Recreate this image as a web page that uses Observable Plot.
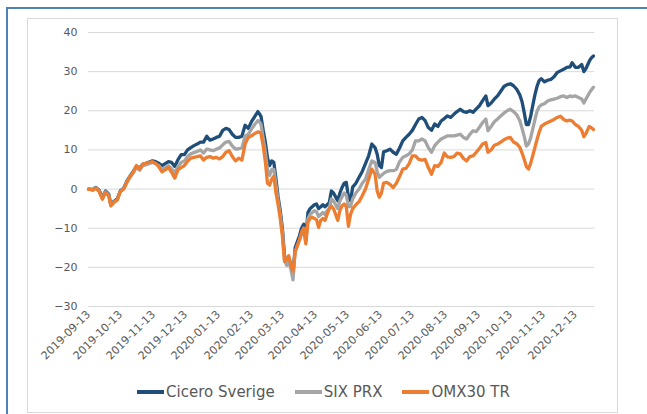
<!DOCTYPE html>
<html>
<head>
<meta charset="utf-8">
<script src="https://cdn.jsdelivr.net/npm/d3@7"></script>
<script src="https://cdn.jsdelivr.net/npm/@observablehq/plot@0.6"></script>
<style>
  html, body { margin: 0; padding: 0; background: #fff; }
  body { width: 647px; height: 414px; overflow: hidden; position: relative; font-family: "DejaVu Sans", Verdana, sans-serif; }
  #outer { position: absolute; left: 6px; top: 7px; width: 700px; height: 500px; border-left: 2px solid #4f81bd; border-top: 2px solid #4f81bd; }
  #inner { position: absolute; left: 27px; top: 18px; width: 589px; height: 393px; border: 1px solid #d9d9d9; }
  #chart { position: absolute; left: 0; top: 0; }
  #legend { position: absolute; left: 0; top: 383px; width: 647px; display: flex; justify-content: center; align-items: center; font-size: 15px; line-height: 18px; color: #595959; }
  .item { display: flex; align-items: center; margin: 0 10px; }
  .sw { display: inline-block; width: 27px; height: 4px; margin-right: 2px; }
</style>
</head>
<body>
<div id="outer"></div>
<div id="inner"></div>
<div id="chart"></div>
<div id="legend"></div>
<script>
const seriesNames = ["Cicero Sverige", "SIX PRX", "OMX30 TR"];
const seriesColors = ["#1f4e79", "#a5a5a5", "#ed7d31"];

const dates = [
"2019-09-13","2019-09-17","2019-09-20","2019-09-23","2019-09-26","2019-09-29","2019-10-02","2019-10-04","2019-10-07","2019-10-10",
"2019-10-13","2019-10-16","2019-10-19","2019-10-22","2019-10-25","2019-10-28","2019-10-31","2019-11-03","2019-11-06","2019-11-09",
"2019-11-12","2019-11-15","2019-11-18","2019-11-21","2019-11-24","2019-11-27","2019-11-30","2019-12-03","2019-12-06","2019-12-09",
"2019-12-12","2019-12-15","2019-12-18","2019-12-21","2019-12-24","2019-12-27","2019-12-30","2020-01-02","2020-01-05","2020-01-08",
"2020-01-11","2020-01-14","2020-01-17","2020-01-20","2020-01-23","2020-01-26","2020-01-29","2020-02-01","2020-02-04","2020-02-07",
"2020-02-10","2020-02-13","2020-02-16","2020-02-19","2020-02-21","2020-02-22","2020-02-24","2020-02-26","2020-02-28","2020-03-01",
"2020-03-03","2020-03-05","2020-03-07","2020-03-09","2020-03-11","2020-03-13","2020-03-15","2020-03-17","2020-03-19","2020-03-21",
"2020-03-23","2020-03-25","2020-03-27","2020-03-29","2020-03-31","2020-04-02","2020-04-04","2020-04-06","2020-04-08","2020-04-10",
"2020-04-12","2020-04-14","2020-04-16","2020-04-18","2020-04-20","2020-04-22","2020-04-24","2020-04-26","2020-04-28","2020-04-30",
"2020-05-02","2020-05-04","2020-05-06","2020-05-08","2020-05-10","2020-05-12","2020-05-14","2020-05-16","2020-05-18","2020-05-21",
"2020-05-24","2020-05-27","2020-05-30","2020-06-02","2020-06-05","2020-06-08","2020-06-10","2020-06-12","2020-06-14","2020-06-16",
"2020-06-19","2020-06-22","2020-06-25","2020-06-28","2020-07-01","2020-07-04","2020-07-07","2020-07-10","2020-07-13","2020-07-16",
"2020-07-19","2020-07-22","2020-07-25","2020-07-28","2020-07-31","2020-08-03","2020-08-06","2020-08-09","2020-08-12","2020-08-15",
"2020-08-18","2020-08-21","2020-08-24","2020-08-27","2020-08-30","2020-09-02","2020-09-05","2020-09-08","2020-09-11","2020-09-14",
"2020-09-17","2020-09-20","2020-09-22","2020-09-25","2020-09-28","2020-10-01","2020-10-04","2020-10-07","2020-10-10","2020-10-13",
"2020-10-16","2020-10-19","2020-10-22","2020-10-24","2020-10-26","2020-10-28","2020-10-30","2020-11-01","2020-11-03","2020-11-05",
"2020-11-07","2020-11-09","2020-11-11","2020-11-14","2020-11-17","2020-11-20","2020-11-23","2020-11-26","2020-11-29","2020-12-02",
"2020-12-05","2020-12-08","2020-12-10","2020-12-13","2020-12-16","2020-12-19","2020-12-21","2020-12-23","2020-12-26","2020-12-28",
"2020-12-30"
];

const cicero = [
0,-0.1,0.4,-0.3,-2.2,-0.5,-1.3,-4,-3.1,-2.5,
-0.4,0.2,2,3.3,4.5,5.8,5.4,6.3,6.6,6.9,
7.2,7,6.6,6,6.5,7,6.8,5.8,7.5,8.8,
8.8,10,10.6,11.1,11.5,12,12,13.5,12.5,12.8,
13.2,13.5,15,15.5,15.2,14,13.2,13.2,13.5,16.3,
15.5,17.2,18.5,19.8,19,18.5,15,12,8,6,
7.2,6.8,2.5,-2,-5.5,-10,-17,-18.5,-17.5,-19.5,
-21.5,-15,-13.5,-12,-10,-9,-12.5,-6,-5,-4.5,
-4,-3.8,-5,-4.5,-4,-4.5,-4,-3.5,-0.5,-1,
-2,-3,-1,0.4,1.5,1.7,-2,-3,0.5,1.5,
3,4.5,6.5,8.5,11.5,10.6,8.9,6,5.5,9.5,
9.8,10.2,9.4,8.9,10.5,12.3,13.2,14,15,16.5,
17.9,18.3,17.5,15.7,15,16.6,16,17.4,18,18.7,
18.3,19.1,19.8,20.4,19.8,19.6,20,19.6,20.5,21.3,
22.6,23.8,21.3,22,23,23.8,25,26.2,26.7,26.9,
26.4,25.5,24,22.3,19.6,16.5,16.5,18.5,21.3,24,
26.2,27.7,28.2,27.4,27.8,28,28.7,29.8,30.2,30.6,
31.1,31.2,32.3,31.1,31.1,31.8,30,30.8,32.6,33.5,
34
];

const sixPrx = [
0,-0.2,0.3,-0.5,-2.4,-0.7,-1.5,-4.2,-3.3,-2.7,
-0.5,0.1,1.8,3.1,4.2,5.5,4.8,6,6.2,6.5,
6.8,6.5,6,5,5.5,6,5.2,4.2,5.8,6.8,
7.2,8.3,9,9.3,9.6,10,9.2,10.2,10,9.8,
10.2,10.5,11.3,12,12.2,11,10.2,10.3,10.5,13.5,
14,15.3,16.5,17.5,17,16.5,13,9.5,5,3.5,
5,5,1,-3,-6.5,-11,-18,-19.5,-18.5,-20.5,
-23.2,-16,-14.5,-13,-11.5,-10,-13.5,-7.5,-6.5,-6,
-5.5,-5.8,-7,-6.5,-6,-6.5,-5.5,-5,-2.5,-3,
-4,-5,-3,-2,-1,-1.5,-4.5,-4.5,-2.5,-1,
0,1.5,2.5,5,7.2,6.8,4.5,3,3.5,4,
4.5,4.7,4.7,5,7,8.1,8.5,9,10,12.3,
12.3,12.8,12.3,10.6,9.4,11.1,12,12.8,13.2,13.6,
13.6,13.6,13.8,14,13.2,12.8,14,14.9,14.7,15.8,
17,17.9,14.9,16,17.2,17.9,18.7,19.4,20,20.4,
19.8,19,17.4,15.5,13.5,11,11.5,13,15.3,17.7,
19.8,21,21.5,21.8,22.5,22.8,23,23.2,23.6,23.8,
23.4,23.8,23.6,23.8,23.4,23,22,23,24.5,25.3,
26
];

const omx30 = [
0,-0.3,0.2,-0.6,-2.6,-0.9,-1.7,-4.3,-3.4,-2.8,
-0.6,0,1.7,3.1,4.3,6,5.1,6.4,6.6,6.8,
7,6.6,5.7,4.4,4.9,5.5,4.3,2.8,4.9,5.5,
6,7.1,7.9,8.1,8.3,8.5,7.4,8.1,8.3,7.9,
8.1,7.7,8.3,9.4,9.8,8.3,7.2,7.9,7.4,11.5,
13.2,13.6,14.2,14.6,14.5,14,11,7,1.5,1,
2.5,3.3,-1,-4,-7.5,-12,-18.5,-18,-17,-19.5,
-21,-16,-14.5,-13,-11,-10,-14,-8.5,-7.5,-7.2,
-7.5,-7.8,-9.8,-8,-7.5,-8,-6.5,-5,-4.3,-5,
-6.5,-8,-5.5,-4.3,-3.8,-4.5,-9.5,-6.5,-5,-4,
-3.2,-1.7,0,2.5,5.1,3.8,-0.5,-2.1,-1,1.5,
1.7,1.2,0.4,1.5,3.2,5.1,5.3,6.5,8.5,8.5,
7.6,7.4,7.6,5.5,3.8,6,5.8,6.8,9.2,8.2,
8.1,8.3,9.2,9,7.8,7.2,8.3,8.5,9.4,10.4,
11.5,11.9,9.4,10,11.2,11.5,12,12.6,13,13.2,
12,11.6,10.6,9.2,7.6,5.8,5.1,6.5,8.5,10.6,
12.6,14.5,16,16.6,17,17.4,17.8,18.3,18.6,17.8,
17.4,17.6,17.4,16.5,16,15,13.4,14.2,16,15.7,
15.2
];

const yTicks = [-30, -20, -10, 0, 10, 20, 30, 40];
const xTickLabels = ["2019-09-13","2019-10-13","2019-11-13","2019-12-13","2020-01-13","2020-02-13","2020-03-13","2020-04-13","2020-05-13","2020-06-13","2020-07-13","2020-08-13","2020-09-13","2020-10-13","2020-11-13","2020-12-13"];

const parse = d3.utcParse("%Y-%m-%d");
const seriesValues = [cicero, sixPrx, omx30];
const rows = [];
seriesNames.forEach((name, s) => {
  dates.forEach((d, i) => rows.push({series: name, date: parse(d), value: seriesValues[s][i]}));
});

const chart = Plot.plot({
  width: 647,
  height: 370,
  marginLeft: 88,
  marginRight: 53,
  marginTop: 32,
  marginBottom: 64,
  style: {fontFamily: "DejaVu Sans, Verdana, sans-serif", fontSize: "11px", color: "#595959", background: "transparent", overflow: "visible"},
  x: {
    type: "utc",
    domain: [parse("2019-09-13"), parse("2020-12-31")],
    ticks: xTickLabels.map(parse),
    tickFormat: d3.utcFormat("%Y-%m-%d"),
    tickRotate: -45,
    tickSize: 0,
    tickPadding: 6,
    label: null,
    line: false
  },
  y: {
    domain: [-30, 40],
    ticks: yTicks,
    tickSize: 0,
    tickPadding: 11,
    label: null
  },
  color: {domain: seriesNames, range: seriesColors},
  marks: [
    Plot.ruleY(yTicks, {stroke: "#d9d9d9", strokeWidth: 1}),
    Plot.line(rows, {x: "date", y: "value", z: "series", stroke: "series", strokeWidth: 3.3, strokeLinejoin: "round", strokeLinecap: "round", curve: "linear"})
  ]
});
document.getElementById("chart").appendChild(chart);

const legend = document.getElementById("legend");
seriesNames.forEach((name, i) => {
  const item = document.createElement("div");
  item.className = "item";
  const sw = document.createElement("span");
  sw.className = "sw";
  sw.style.background = seriesColors[i];
  const t = document.createElement("span");
  t.textContent = name;
  item.appendChild(sw);
  item.appendChild(t);
  legend.appendChild(item);
});
</script>
</body>
</html>
